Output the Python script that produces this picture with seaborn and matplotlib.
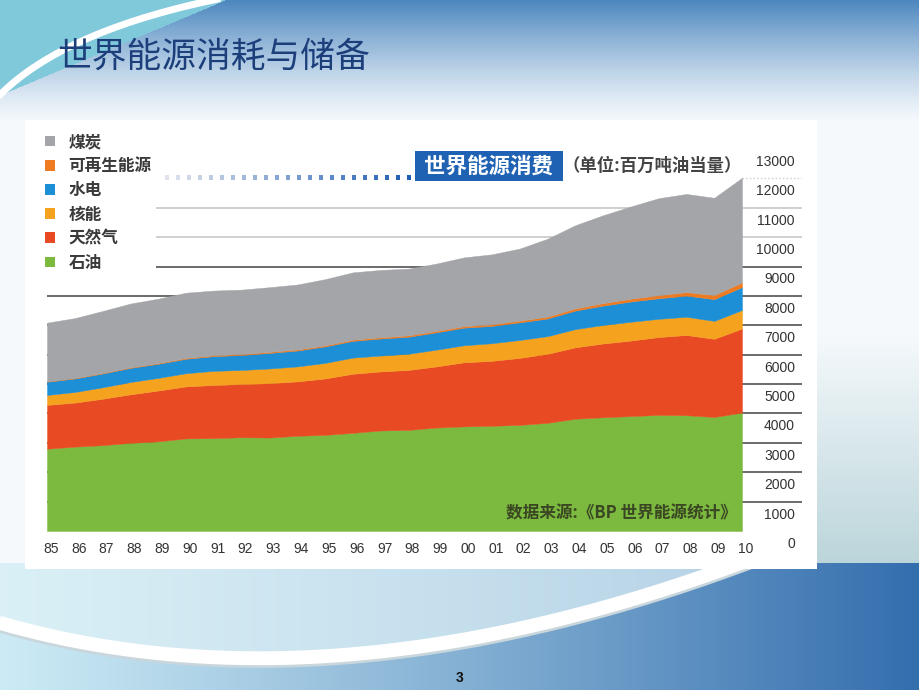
import numpy as np
import matplotlib
matplotlib.use("Agg")
import matplotlib.pyplot as plt
import matplotlib.transforms as mtransforms
import seaborn as sns
from matplotlib.patches import Rectangle, Patch

# ---------------- data (Mtoe) ----------------
years = list(range(1985, 2011))
year_labels = ["85", "86", "87", "88", "89", "90", "91", "92", "93", "94", "95", "96", "97",
               "98", "99", "00", "01", "02", "03", "04", "05", "06", "07", "08", "09", "10"]
oil = [2800, 2870, 2920, 3000, 3050, 3150, 3160, 3190, 3180, 3240, 3270, 3340, 3420,
       3440, 3520, 3560, 3580, 3610, 3680, 3820, 3870, 3910, 3950, 3940, 3880, 4030]
gas = [1490, 1500, 1580, 1650, 1730, 1770, 1810, 1810, 1850, 1850, 1920, 2010, 2010,
       2040, 2080, 2180, 2210, 2280, 2350, 2430, 2510, 2570, 2650, 2730, 2660, 2860]
nuclear = [340, 360, 390, 420, 430, 450, 480, 480, 500, 510, 530, 550, 540,
           550, 570, 580, 600, 610, 600, 620, 630, 640, 620, 620, 610, 630]
hydro = [450, 460, 470, 480, 480, 490, 500, 510, 530, 540, 560, 570, 580,
         580, 590, 600, 590, 600, 600, 630, 660, 690, 700, 720, 740, 780]
renew = [10, 15, 18, 20, 25, 30, 32, 35, 37, 38, 40, 42, 45,
         48, 50, 52, 55, 60, 65, 75, 85, 95, 105, 120, 140, 160]
coal = [2000, 2040, 2110, 2170, 2190, 2220, 2200, 2190, 2200, 2210, 2250, 2290, 2290,
        2270, 2290, 2340, 2380, 2450, 2650, 2830, 2990, 3140, 3300, 3340, 3310, 3560]
y_ticks = [0, 1000, 2000, 3000, 4000, 5000, 6000, 7000, 8000, 9000, 10000, 11000, 12000, 13000]

legend_names = ["煤炭", "可再生能源", "水电", "核能", "天然气", "石油"]
slide_title = "世界能源消耗与储备"
chart_title = "世界能源消费"
unit_text = "（单位:百万吨油当量）"
source_text = "数据来源:《BP 世界能源统计》"

col_coal, col_ren, col_hyd, col_nuc, col_gas, col_oil = (
    "#a3a5a8", "#ee7b22", "#1d8fd6", "#f5a21e", "#e84b23", "#7bb93f")

sns.set_theme(style="white")
plt.rcParams['font.family'] = ['Noto Sans CJK SC', 'DejaVu Sans']

W, H = 920, 690
fig = plt.figure(figsize=(9.2, 6.9), dpi=100)

# ---------------- slide background ----------------
bg = fig.add_axes([0, 0, 1, 1])
bg.set_xlim(0, W)
bg.set_ylim(H, 0)
bg.axis("off")

yy, xx = np.mgrid[0:H, 0:W].astype(float)
img = np.ones((H, W, 3)) * np.array([0.965, 0.98, 0.99])
t = np.clip(1 - yy / 125.0, 0, 1) ** 1.3
blue_top = np.array([0.30, 0.53, 0.75])
img = img * (1 - t[..., None]) + blue_top * t[..., None]
m = (xx / 225.0 + yy / 95.0) < 1
img[m] = np.array([0.50, 0.79, 0.86])
t2 = np.clip((yy - 330) / 230.0, 0, 1) * (xx > 812)
img = img * (1 - 0.55 * t2[..., None]) + np.array([0.55, 0.72, 0.75]) * (0.55 * t2[..., None])
s = np.clip(xx / W, 0, 1) ** 1.1
bot = np.array([0.80, 0.92, 0.96])[None, None, :] * (1 - s[..., None]) + \
      np.array([0.20, 0.43, 0.68])[None, None, :] * s[..., None]
mb = yy > 562
img[mb] = bot[mb]
P0, P1, P2 = np.array([-10, 620]), np.array([330, 722]), np.array([770, 552])
tt = np.linspace(0, 1, 400)
cx = (1 - tt) ** 2 * P0[0] + 2 * (1 - tt) * tt * P1[0] + tt ** 2 * P2[0]
cy = (1 - tt) ** 2 * P0[1] + 2 * (1 - tt) * tt * P1[1] + tt ** 2 * P2[1]
ycurve = np.interp(xx, cx, cy)
ma = mb & (yy < ycurve)
light = np.array([0.88, 0.95, 0.97])
img[ma] = img[ma] * 0.3 + light * 0.7
bg.imshow(img, extent=(0, W, H, 0), aspect="auto", zorder=0)

bg.plot(cx, cy + 2, color="#c9d6dc", lw=11, solid_capstyle="butt", zorder=1)
bg.plot(cx, cy, color="white", lw=10, solid_capstyle="butt", zorder=1.1)
tl = np.linspace(0, 1, 100)
lx = (1 - tl) ** 2 * (-5) + 2 * (1 - tl) * tl * 60 + tl ** 2 * 228
ly = (1 - tl) ** 2 * 100 + 2 * (1 - tl) * tl * 30 + tl ** 2 * (-3)
bg.plot(lx, ly, color="white", lw=5, zorder=1.1)

bg.add_patch(Rectangle((25, 120), 792, 449, facecolor="white", edgecolor="none", zorder=2))

bg.text(57, 57, slide_title, fontsize=25, color="#1c3f7c", ha="left", va="center", zorder=3)
bg.text(460, 678, "3", fontsize=10, fontweight="bold", color="#111111",
        ha="center", va="center", family=["Liberation Sans", "DejaVu Sans"], zorder=3)

bg.add_patch(Rectangle((415, 151), 148, 30, facecolor="#1f62b3", edgecolor="none", zorder=3))
bg.text(489, 166, chart_title, fontsize=15.5, fontweight="bold", color="white",
        ha="center", va="center", zorder=4)
bg.text(563, 166, unit_text, fontsize=12.5, fontweight="bold", color="#444444",
        ha="left", va="center", zorder=4)
dx = np.arange(167, 412, 11.0)
frac = (dx - dx.min()) / (dx.max() - dx.min())
dcols = [(0.88 - 0.76 * f, 0.89 - 0.52 * f, 0.93 - 0.22 * f) for f in frac]
bg.scatter(dx, np.full_like(dx, 177.5), marker="s", s=12, c=dcols, linewidths=0, zorder=4)

# ---------------- main chart ----------------
x_left, x_right, y_bot, y_top = 47, 802, 531, 149
ax = fig.add_axes([x_left / W, (H - y_bot) / H, (x_right - x_left) / W, (y_bot - y_top) / H])
ax.patch.set_alpha(0)
ax.set_zorder(5)
px_per_year = (742 - 47) / 25.0
ax.set_xlim(1985, 1985 + (x_right - x_left) / px_per_year)
ax.set_ylim(0, 13000)

for v in y_ticks[1:-1]:
    if v == 12000:
        ax.hlines(v, 2010, 2013, color="#cccccc", lw=1.0, linestyles=":", zorder=0.5)
    elif v >= 10000:
        ax.axhline(v, color="#c4c4c4", lw=1.1, zorder=0.5)
    else:
        ax.axhline(v, color="#5f5f5f", lw=1.3, zorder=0.5)

ax.stackplot(years, oil, gas, nuclear, hydro, renew, coal,
             colors=[col_oil, col_gas, col_nuc, col_hyd, col_ren, col_coal],
             linewidth=0.3, edgecolor="face", zorder=1)

for sp in ax.spines.values():
    sp.set_visible(False)
ax.set_yticks([])
ax.set_xticks(years)
ax.set_xticklabels(year_labels, family=["Liberation Sans Narrow", "Liberation Sans", "DejaVu Sans"],
                   fontsize=10, color="#333333")
ax.tick_params(axis="x", length=0, pad=8)
ax.grid(False)
shift = mtransforms.ScaledTranslation(4 / 100, 0, fig.dpi_scale_trans)
for lab in ax.get_xticklabels():
    lab.set_transform(lab.get_transform() + shift)

xr = 1985 + (795 - x_left) / px_per_year
for v in y_ticks:
    ax.text(xr, v - 440, f"{v}", ha="right", va="center", fontsize=10, color="#333333",
            family=["Liberation Sans", "DejaVu Sans"])

ax.text(1985 + (737 - x_left) / px_per_year, (531 - 513) / 29.4 * 1000, source_text,
        ha="right", va="center", fontsize=12, fontweight="bold", color="#3a4722", zorder=6)

handles = [Patch(facecolor=c, edgecolor="none") for c in
           [col_coal, col_ren, col_hyd, col_nuc, col_gas, col_oil]]
leg = ax.legend(handles, legend_names, loc="upper left",
                bbox_to_anchor=(40 / W, 1 - 128 / H), bbox_transform=fig.transFigure,
                frameon=True, fancybox=False, borderaxespad=0, borderpad=0.3,
                handlelength=0.6, handleheight=0.6, handletextpad=0.8,
                labelspacing=0.37, prop={"size": 12, "weight": "bold"})
leg.get_frame().set_facecolor("white")
leg.get_frame().set_edgecolor("none")
leg.get_frame().set_alpha(1)
for txt in leg.get_texts():
    txt.set_color("#3a3a3a")

fig.savefig("out.png", dpi=100)
